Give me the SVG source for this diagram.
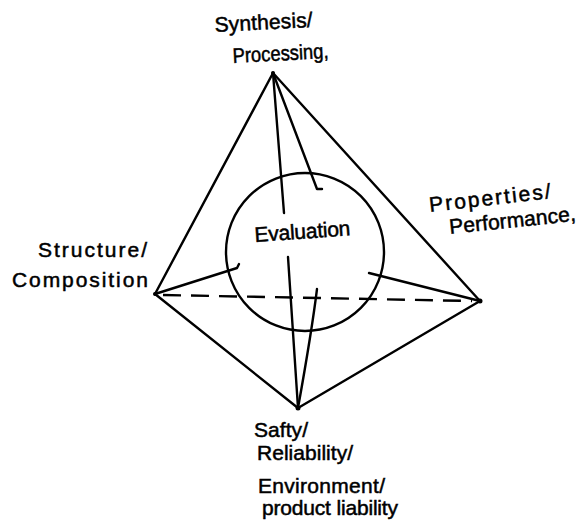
<svg xmlns="http://www.w3.org/2000/svg" width="582" height="523" viewBox="0 0 582 523">
  <style>
    .edge { fill: none; stroke: #000; stroke-width: 2.4; stroke-linecap: round; stroke-linejoin: round; }
    .dash { fill: none; stroke: #000; stroke-width: 2.4; stroke-dasharray: 18 10; }
    .lbl { font-family: "Liberation Sans", Arial, sans-serif; font-size: 21px; fill: #000; stroke: #000; stroke-width: 0.5; }
    .vtx { fill: #000; }
  </style>
  <rect width="582" height="523" fill="#fff"/>

  <!-- tetrahedron edges and spokes toward the evaluation sphere -->
  <g id="connectors">
    <path class="edge" d="M273 73 L155 294"/>
    <path class="edge" d="M273 73 L480 301"/>
    <path class="edge" d="M155 294 L298 408"/>
    <path class="edge" d="M480 301 L298 408"/>
    <path class="dash" d="M163 295 L472 301"/>
    <path class="edge" d="M273 73 L284 213"/>
    <path class="edge" d="M273 73 L317 189 L322 189"/>
    <path class="edge" d="M155 294 L237 268 L239 264"/>
    <path class="edge" d="M480 301 L369 273"/>
    <path class="edge" d="M298 408 L288 257"/>
    <path class="edge" d="M298 408 Q 312 330 317 289"/>
  </g>

  <g id="evaluation">
    <circle class="edge" cx="305" cy="252" r="79"/>
    <text class="lbl" x="255" y="242" textLength="96" lengthAdjust="spacing" transform="rotate(-4 255 242)">Evaluation</text>
  </g>

  <g id="synthesis-processing">
    <circle class="vtx" cx="273" cy="73" r="2"/>
    <text class="lbl" x="215" y="32" textLength="98" lengthAdjust="spacing" transform="rotate(-3 215 32)">Synthesis/</text>
    <text class="lbl" x="233" y="63" textLength="96" lengthAdjust="spacingAndGlyphs" transform="rotate(-3 233 63)">Processing,</text>
  </g>

  <g id="properties-performance">
    <circle class="vtx" cx="480" cy="301" r="2.5"/>
    <text class="lbl" x="430" y="212" textLength="122" lengthAdjust="spacing" transform="rotate(-6.5 430 212)">Properties/</text>
    <text class="lbl" x="450" y="234" textLength="127" lengthAdjust="spacing" transform="rotate(-6 450 234)">Performance,</text>
  </g>

  <g id="structure-composition">
    <circle class="vtx" cx="155" cy="294" r="2"/>
    <text class="lbl" x="38" y="257" textLength="109" lengthAdjust="spacing">Structure/</text>
    <text class="lbl" x="12" y="287" textLength="136" lengthAdjust="spacing">Composition</text>
  </g>

  <g id="safety-reliability">
    <circle class="vtx" cx="298" cy="408" r="2.5"/>
    <text class="lbl" x="254" y="437" textLength="54" lengthAdjust="spacing">Safty/</text>
    <text class="lbl" x="257" y="460" textLength="96" lengthAdjust="spacing">Reliability/</text>
    <text class="lbl" x="258" y="493" textLength="127" lengthAdjust="spacing">Environment/</text>
    <text class="lbl" x="262" y="515" textLength="136" lengthAdjust="spacing">product liability</text>
  </g>
</svg>
